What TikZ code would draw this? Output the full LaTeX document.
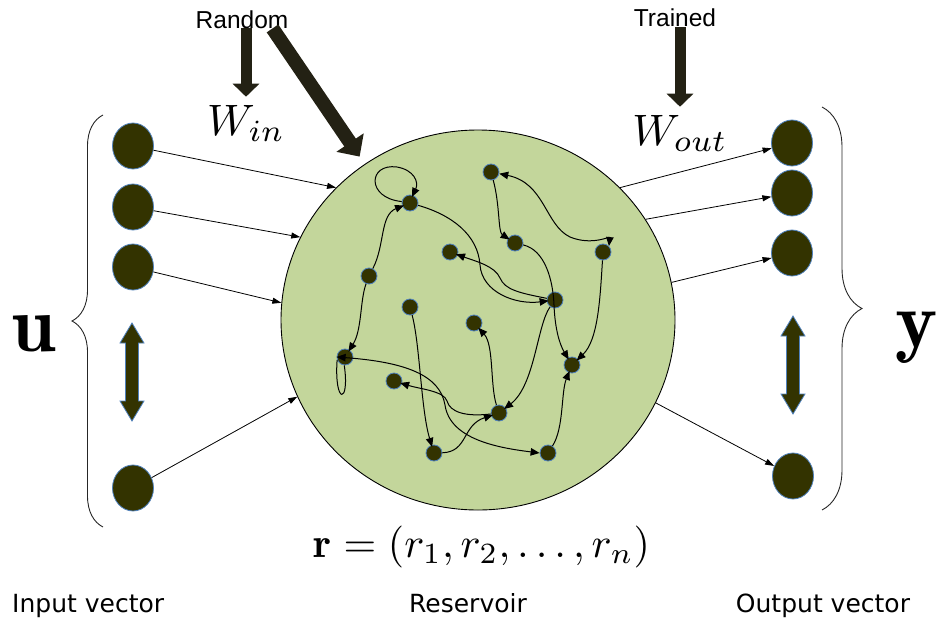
\documentclass[tikz,border=0pt]{standalone}
\usepackage{fontspec}
\usetikzlibrary{arrows.meta,shapes.geometric,decorations.pathreplacing}
\newfontfamily\arialf{Liberation Sans}
\newfontfamily\verdf{DejaVu Sans}
\definecolor{resgreen}{RGB}{195,214,155}
\definecolor{olivedark}{RGB}{51,51,0}
\definecolor{nodeblue}{RGB}{79,129,189}
\definecolor{arrowdark}{RGB}{35,33,20}
\begin{document}
\begin{tikzpicture}[x=1pt,y=-1pt,
  resv/.style={ellipse, draw=black, line width=0.9pt, fill=resgreen, minimum width=394pt, minimum height=380pt, inner sep=0pt},
  bignode/.style={ellipse, fill=olivedark, draw=nodeblue, line width=0.8pt, minimum width=41pt, minimum height=46pt, inner sep=0pt},
  rnode/.style={circle, fill=olivedark, draw=nodeblue, line width=0.8pt, minimum size=16pt, inner sep=0pt},
  thinarrow/.style={line width=0.8pt, -{Triangle[length=9pt,width=6pt]}},
  redge/.style={line width=1pt, shorten >=-2pt, -{Triangle[length=9pt,width=7.5pt]}},
  redgetwo/.style={line width=1pt, {Triangle[length=9pt,width=7.5pt]}-{Triangle[length=9pt,width=7.5pt]}},
  rline/.style={line width=1pt},
  bigarrow/.style={draw=arrowdark, line width=11pt, -{Triangle[length=13pt,width=26pt]}},
  diagarrow/.style={draw=arrowdark, line width=14pt, -{Triangle[length=17pt,width=32pt]}},
  lbl/.style={font=\arialf\fontsize{24.5}{24.5}\selectfont, inner sep=0pt, anchor=base},
  botlbl/.style={font=\verdf\fontsize{25}{25}\selectfont, inner sep=0pt},
  bracestyle/.style={decorate, line width=0.9pt, draw=black!85},
  dblarrow/.pic={\filldraw[fill=olivedark, draw=nodeblue, line width=0.8pt]
     (-6.5,-29) -- (-12,-29) -- (0,-49) -- (12,-29) -- (6.5,-29) -- (6.5,29) -- (12,29) -- (0,49) -- (-12,29) -- (-6.5,29) -- cycle;}
]
\useasboundingbox (0,0) rectangle (939,621);

% reservoir
\node[resv] (res) at (478,320) {};

% input / output nodes
\node[bignode] (in1) at (133,146) {};
\node[bignode] (in2) at (133,207) {};
\node[bignode] (in3) at (133,267) {};
\node[bignode] (in4) at (133,488) {};
\node[bignode] (out1) at (792,143) {};
\node[bignode] (out2) at (792,193) {};
\node[bignode] (out3) at (792,253) {};
\node[bignode] (out4) at (793,476) {};

\pic at (132,372) {dblarrow};
\pic at (793,365) {dblarrow};

% braces
\draw[bracestyle, decoration={brace, amplitude=31pt}] (103,527) -- (103,115);
\draw[bracestyle, decoration={brace, amplitude=40pt}] (822,107) -- (822,510);

\node[anchor=base, inner sep=0pt] (ulbl) at (34,351) {\scalebox{8}{$\mathbf{u}$}};
\node[anchor=base, inner sep=0pt] (ylbl) at (917,347) {\scalebox{8}{$\mathbf{y}$}};

% input / output connectors
\draw[thinarrow] (in1) -- (res.137);
\draw[thinarrow] (in2) -- (res.155);
\draw[thinarrow] (in3) -- (res.175);
\draw[thinarrow] (in4) -- (res.203);
\draw[thinarrow] (res.43) -- (out1);
\draw[thinarrow] (res.31) -- (out2);
\draw[thinarrow] (res.11) -- (out3);
\draw[thinarrow] (res.-25) -- (out4);

% top labels and thick arrows
\node[lbl] (rand) at (242,28) {Random};
\node[lbl] (trained) at (675,27) {Trained};
\node[anchor=base, inner sep=0pt] (win) at (246,135) {\scalebox{4.4}{$W_{in}$}};
\node[anchor=base, inner sep=0pt] (wout) at (680,145) {\scalebox{4.4}{$W_{out}$}};
\draw[bigarrow] (rand.south -| win) -- ([yshift=8pt]win.north);
\draw[bigarrow] (trained.south -| wout) -- ([yshift=8pt]wout.north);
\draw[diagarrow, shorten >=9pt] ([xshift=-16pt]rand.south east) -- (res.126);

% reservoir internal nodes
\node[rnode] (A) at (410,203) {};
\node[rnode] (B) at (450,252) {};
\node[rnode] (C) at (369,276) {};
\node[rnode] (D) at (410,307) {};
\node[rnode] (E) at (491,172) {};
\node[rnode] (F) at (515,243) {};
\node[rnode] (G) at (603,252) {};
\node[rnode] (H) at (555,300) {};
\node[rnode] (I) at (474,323) {};
\node[rnode] (J) at (345,357) {};
\node[rnode] (K) at (394,381) {};
\node[rnode] (L) at (434,453) {};
\node[rnode] (M) at (572,365) {};
\node[rnode] (N) at (499,413) {};
\node[rnode] (O) at (548,453) {};

% reservoir internal connections
\draw[redge] (A.170) .. controls (366,198) and (368,163) .. (397,167) .. controls (414,170) and (419,182) .. (A.70);
\draw[redge] (C) .. controls (385,245) and (380,215) .. (A);
\draw[redge] (C) .. controls (360,300) and (362,330) .. (J);
\draw[rline] (J.200) .. controls (334,405) and (350,405) .. (J.265);
\draw[redgetwo] (J.west) .. controls (405,362) and (440,375) .. (445,405) .. controls (450,440) and (500,448) .. (O.west);
\draw[redge] (D) .. controls (420,345) and (421,410) .. (L);
\draw[redge] (L) .. controls (468,452) and (462,425) .. (N);
\draw[redge] (N) .. controls (465,417) and (450,412) .. (447,401) .. controls (444,391) and (420,389) .. (K);
\draw[redge] (N) .. controls (490,385) and (494,345) .. (I);
\draw[redge] (O) .. controls (564,428) and (561,392) .. (M);
\draw[redge] (G) .. controls (600,300) and (598,340) .. (M);
\draw[redge] (F) .. controls (545,250) and (553,280) .. (554,305) .. controls (555,330) and (560,345) .. (M);
\draw[redge] (H) .. controls (537,325) and (535,385) .. (N);
\draw[redge] (E) .. controls (500,205) and (498,232) .. (F);
\draw[redgetwo] (E) .. controls (545,183) and (545,225) .. (570,237) .. controls (592,246) and (610,236) .. (G.north east);
\draw[redge] (A) .. controls (452,215) and (478,235) .. (480,265) .. controls (482,292) and (515,305) .. (H);
\draw[redge] (H) .. controls (520,293) and (505,290) .. (500,278) .. controls (495,266) and (475,261) .. (B);

% bottom texts
\node[anchor=base, inner sep=0pt] (rformula) at (482,557) {\scalebox{4.2}{$\mathbf{r}=(r_1,r_2,\ldots,r_n)$}};
\node[botlbl, anchor=base west] (inlbl) at (12,612) {Input vector};
\node[botlbl, anchor=base] (reslbl) at (468,612) {Reservoir};
\node[botlbl, anchor=base] (outlbl) at (823,612) {Output vector};
\end{tikzpicture}
\end{document}
